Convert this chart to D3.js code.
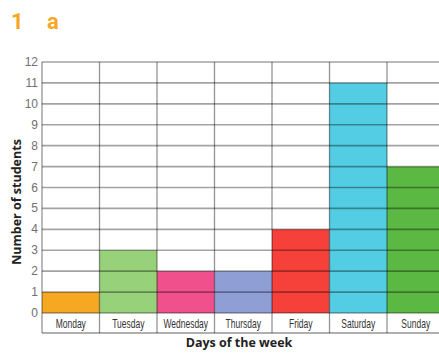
<!DOCTYPE html>
<html>
<head>
<meta charset="utf-8">
<script src="https://cdn.jsdelivr.net/npm/d3@7"></script>
<style>
  body { margin: 0; background: #fff; }
  svg { display: block; }
</style>
</head>
<body>
<svg width="439" height="353"></svg>
<script>
var days = ["Monday", "Tuesday", "Wednesday", "Thursday", "Friday", "Saturday", "Sunday"];
var students = [1, 3, 2, 2, 4, 11, 7];
var colours = ["#f7a823", "#97d27b", "#f0508b", "#8f9fd6", "#f6403a", "#52cde3", "#5bb842"];
var yTicks = d3.range(0, 13);

var svg = d3.select("svg"),
    plotLeft = 42, plotTop = 62, zeroY = 313, plotBottom = 333,
    colW = 57.5;

var x = d3.scaleBand()
    .domain(days)
    .range([plotLeft, plotLeft + colW * days.length])
    .padding(0);

var y = d3.scaleLinear()
    .domain([0, 12])
    .range([zeroY, plotTop]);

// title
svg.append("text").attr("x", 11).attr("y", 29)
    .style("font-family", "Roboto, 'Liberation Sans', sans-serif")
    .style("font-weight", "bold").style("font-size", "22px").style("fill", "#f7a823")
    .text("1");
svg.append("text").attr("x", 47).attr("y", 29)
    .style("font-family", "Roboto, 'Liberation Sans', sans-serif")
    .style("font-weight", "bold").style("font-size", "22px").style("fill", "#f7a823")
    .text("a");

// bars
svg.append("g").selectAll("rect")
    .data(days)
  .enter().append("rect")
    .attr("x", function(d) { return x(d); })
    .attr("y", function(d, i) { return y(students[i]); })
    .attr("width", x.bandwidth())
    .attr("height", function(d, i) { return y(0) - y(students[i]); })
    .style("fill", function(d, i) { return colours[i]; });

// horizontal grid
svg.append("g").selectAll("line")
    .data(yTicks)
  .enter().append("line")
    .attr("x1", plotLeft).attr("x2", 439)
    .attr("y1", function(d) { return y(d); })
    .attr("y2", function(d) { return y(d); })
    .style("stroke", "rgba(0,0,0,0.36)")
    .style("stroke-width", "1.6px");

// vertical grid
var vx = days.map(function(d) { return x(d); });
svg.append("g").selectAll("line")
    .data(vx)
  .enter().append("line")
    .attr("x1", function(d) { return d; }).attr("x2", function(d) { return d; })
    .attr("y1", plotTop).attr("y2", plotBottom)
    .style("stroke", "rgba(0,0,0,0.42)")
    .style("stroke-width", "1.3px");

svg.append("line")
    .attr("x1", plotLeft).attr("x2", 439)
    .attr("y1", plotBottom).attr("y2", plotBottom)
    .style("stroke", "rgba(0,0,0,0.42)")
    .style("stroke-width", "1.4px");

// y tick labels
svg.append("g").selectAll("text")
    .data(yTicks)
  .enter().append("text")
    .attr("x", 38)
    .attr("y", function(d) { return y(d) + 4; })
    .style("text-anchor", "end")
    .style("font-family", "'Liberation Sans', Arial, sans-serif")
    .style("font-size", "12px").style("fill", "#707070")
    .text(function(d) { return d; });

// day labels (condensed look)
svg.append("g").selectAll("text")
    .data(days)
  .enter().append("text")
    .attr("transform", function(d) {
      return "translate(" + (x(d) + x.bandwidth() / 2) + ",328) scale(0.68,1)";
    })
    .style("text-anchor", "middle")
    .style("font-family", "'Liberation Sans', Arial, sans-serif")
    .style("font-size", "12.5px").style("fill", "#333")
    .text(function(d) { return d; });

// axis titles
svg.append("text")
    .attr("x", 239).attr("y", 347)
    .style("text-anchor", "middle")
    .style("font-family", "'Open Sans', 'Liberation Sans', sans-serif")
    .style("font-weight", "bold").style("font-size", "12.5px").style("fill", "#222")
    .text("Days of the week");

svg.append("text")
    .attr("transform", "translate(21," + 202 + ") rotate(-90)")
    .style("text-anchor", "middle")
    .style("font-family", "'Open Sans', 'Liberation Sans', sans-serif")
    .style("font-weight", "bold").style("font-size", "12.5px").style("fill", "#222")
    .text("Number of students");
</script>
</body>
</html>
